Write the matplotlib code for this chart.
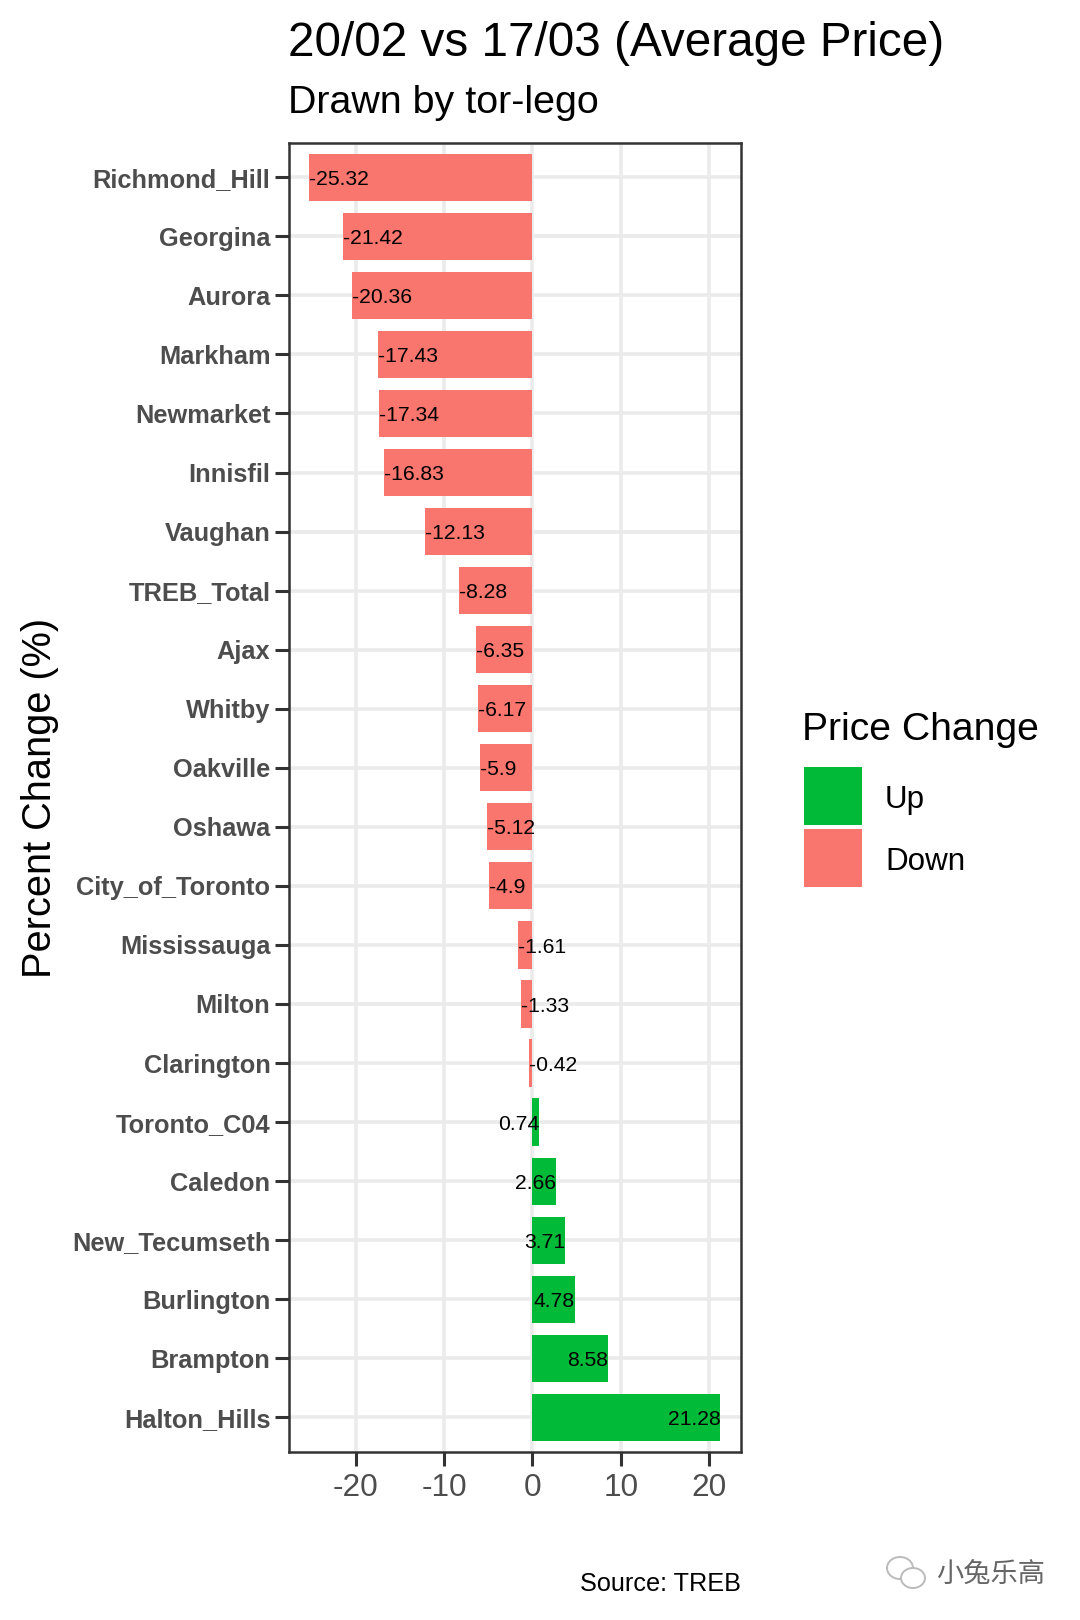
import matplotlib
matplotlib.use("Agg")
import matplotlib.pyplot as plt
from matplotlib.patches import Rectangle, Ellipse

categories = ["Richmond_Hill","Georgina","Aurora","Markham","Newmarket","Innisfil","Vaughan","TREB_Total","Ajax","Whitby","Oakville","Oshawa","City_of_Toronto","Mississauga","Milton","Clarington","Toronto_C04","Caledon","New_Tecumseth","Burlington","Brampton","Halton_Hills"]
values = [-25.32,-21.42,-20.36,-17.43,-17.34,-16.83,-12.13,-8.28,-6.35,-6.17,-5.9,-5.12,-4.9,-1.61,-1.33,-0.42,0.74,2.66,3.71,4.78,8.58,21.28]
legend_labels = ["Up","Down"]
legend_colors = ["#00BA38","#F8766D"]
xticks = [-20,-10,0,10,20]

plt.rcParams['font.family'] = ['Liberation Sans','DejaVu Sans']
W,H = 1080,1620
fig = plt.figure(figsize=(W/100,H/100),dpi=100)
ax = fig.add_axes([288.5/W,1-1452/H,(741-288.5)/W,(1452-143)/H])
ypos = list(range(len(categories)))
colors = [legend_colors[0] if v>0 else legend_colors[1] for v in values]
ax.barh(ypos,values,height=0.8,color=colors,zorder=3)
for y,v in zip(ypos,values):
    ax.annotate(str(v),(v,y),xytext=(0,-1.5),textcoords='offset points',
                ha='right' if v>0 else 'left',va='center',fontsize=15.2,color='black',zorder=4)
ax.set_ylim(21.587,-0.58)
ax.set_xlim(-27.6,23.6)
ax.set_yticks(ypos,categories)
ax.set_xticks(xticks,[str(t) for t in xticks])
ax.grid(True,which='major',color='#EBEBEB',lw=2.6,zorder=0)
ax.tick_params(axis='y',length=10,width=2.2,color='#333333',labelsize=18.3,labelcolor='#4D4D4D',pad=3)
for t in ax.get_yticklabels(): t.set_fontweight('bold')
ax.tick_params(axis='x',which='major',length=10,width=2.2,color='#333333',labelsize=22.8,labelcolor='#4D4D4D',pad=5)
for s in ax.spines.values():
    s.set_color('#333333'); s.set_linewidth(1.8); s.set_zorder(5)
fig.text(288/W,1-43/H,"20/02 vs 17/03 (Average Price)",fontsize=34.3,va='center',ha='left',color='black')
fig.text(288/W,1-103/H,"Drawn by tor-lego",fontsize=28.4,va='center',ha='left',color='black')
fig.text(40/W,1-798/H,"Percent Change (%)",fontsize=28.6,rotation=90,va='center',ha='center',color='black')
fig.text(741/W,1-1584/H,"Source: TREB",fontsize=18.2,va='center',ha='right',color='black')
fig.text(802/W,1-730/H,"Price Change",fontsize=28.2,va='center',ha='left',color='black')
for i,(l,c) in enumerate(zip(legend_labels,legend_colors)):
    y0 = 767+62*i
    fig.add_artist(Rectangle((804/W,1-(y0+58)/H),58/W,58/H,transform=fig.transFigure,facecolor=c,edgecolor='none'))
    fig.text(885/W,1-(y0+33)/H,l,fontsize=22.6,va='center',ha='left',color='black')
# watermark
fig.add_artist(Ellipse((900/W,1-1568/H),26/W,22/H,angle=0,transform=fig.transFigure,facecolor='white',edgecolor='#BBBBBB',lw=1.4))
fig.add_artist(Ellipse((913/W,1-1578/H),24/W,20/H,angle=0,transform=fig.transFigure,facecolor='white',edgecolor='#BBBBBB',lw=1.4))
fig.text(936/W,1-1574/H,"小兔乐高",fontsize=19.6,va='center',ha='left',color='#666666',family=['Noto Sans CJK SC','DejaVu Sans'])
fig.savefig("out.png",dpi=100,facecolor='white')
